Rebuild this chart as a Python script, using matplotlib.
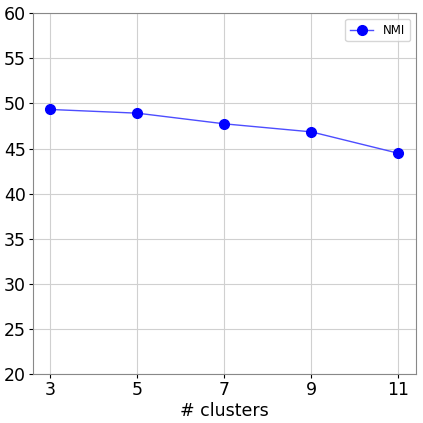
import matplotlib
matplotlib.use("Agg")
import matplotlib.pyplot as plt

# number of clusters vs NMI score
clusters = [3, 5, 7, 9, 11]
nmi = [49.33, 48.92, 47.74, 46.85, 44.48]

fig, ax = plt.subplots(figsize=(4.23, 4.23), dpi=100)
fig.subplots_adjust(left=0.078, right=0.983, bottom=0.115, top=0.969)

line, = ax.plot(clusters, nmi, color="blue", linewidth=1, marker="o",
                markersize=7, label="NMI")
line.set_color((0.3, 0.3, 1.0))
line.set_markerfacecolor("blue")
line.set_markeredgecolor("blue")

ax.set_ylim(20, 60)
ax.set_xticks(clusters)
ax.set_xlabel("# clusters", fontsize=12.5, labelpad=2)
ax.tick_params(labelsize=12.5, length=3, pad=2)
ax.grid(True, color="#d0d0d0", linewidth=0.8)
for sp in ax.spines.values():
    sp.set_color("#888888")
ax.legend(loc="upper right", fontsize=8.5)

fig.savefig("out.png", dpi=100)
